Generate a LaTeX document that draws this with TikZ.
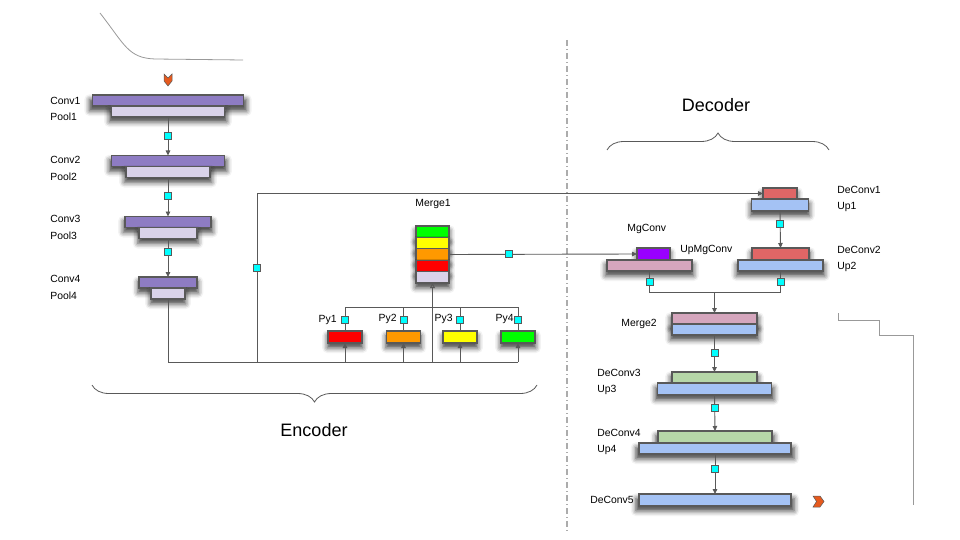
\documentclass[tikz,border=0pt]{standalone}
\usepackage{fontspec}
\setmainfont{Liberation Sans}
\usepackage{xcolor}
\usetikzlibrary{positioning,arrows.meta}
\usetikzlibrary{shadows.blur}
\usetikzlibrary{decorations.pathreplacing}
\tikzset{every picture/.style={line width=0.75pt}}
\definecolor{convpurple}{HTML}{8E7CC3}
\definecolor{poollav}{HTML}{D9D2E9}
\definecolor{deconvred}{HTML}{E06666}
\definecolor{upblue}{HTML}{A4C2F4}
\definecolor{mgpink}{HTML}{D5A6BD}
\definecolor{deconvgreen}{HTML}{B6D7A8}
\definecolor{mgpurple}{HTML}{9900FF}
\definecolor{pyred}{HTML}{FF0000}
\definecolor{pyorange}{HTML}{FF9900}
\definecolor{pyyellow}{HTML}{FFFF00}
\definecolor{pygreen}{HTML}{00FF00}
\definecolor{tapcyan}{HTML}{00FFFF}
\definecolor{linegray}{HTML}{595959}
\definecolor{chevorange}{HTML}{E65A1E}

\begin{document}
\begin{tikzpicture}[x=1pt,y=1pt,yscale=-1,xscale=1,
  layer/.style={draw=linegray, line width=1.1pt, inner sep=0pt, outer sep=0pt, minimum height=11pt,
    blur shadow={shadow xshift=0pt, shadow yshift=-4.5pt, shadow scale=1.04, shadow blur radius=5pt, shadow opacity=75}},
  conv/.style={layer, fill=convpurple},
  pool/.style={layer, fill=poollav},
  tap/.style={draw=linegray, fill=tapcyan, line width=0.8pt, minimum size=7pt, inner sep=0pt},
  lbl/.style={font=\fontsize{10.4}{12}\selectfont, inner sep=0pt, anchor=west},
  wire/.style={draw=linegray, line width=0.9pt},
  link/.style={wire, -{Triangle[width=4.5pt,length=5pt]}},
  chev/.style={draw=linegray, fill=chevorange, line width=0.5pt},
  brace/.style={draw=linegray, line width=0.8pt, decorate, decoration={brace, amplitude=17pt}},
  title/.style={font=\fontsize{18}{21}\selectfont, inner sep=0pt}]
\useasboundingbox (0,0) rectangle (960,540);

%Curve: input signal
\draw [color=gray!80, line width=0.8pt] (100,13) .. controls (125,45) and (128,58) .. (155,59) -- (243,60) ;
%Shape: Chevron
\draw [chev] (164,74) -- (168,78) -- (172,74) -- (172,81) -- (168,86) -- (164,81) -- cycle ;
%Straight Lines: separator
\draw [draw=gray!65, line width=1.1pt, dash pattern=on 6pt off 3pt on 1pt off 3pt] (567,40) -- (567,533) ;

%Shape: Encoder layers
\node [conv, minimum width=151pt] (conv1) at (168,100.5) {};
\node [pool, minimum width=113pt, below=0pt of conv1] (pool1) {};
\node [conv, minimum width=113pt] (conv2) at (168,161) {};
\node [pool, minimum width=84pt, below=0pt of conv2] (pool2) {};
\node [conv, minimum width=86pt] (conv3) at (168,222) {};
\node [pool, minimum width=58pt, below=0pt of conv3] (pool3) {};
\node [conv, minimum width=58pt] (conv4) at (168,282.5) {};
\node [pool, minimum width=34pt, below=0pt of conv4] (pool4) {};

% Text Node
\node [lbl] (lconv1) at (50,101) {Conv1};
\node [lbl] (lpool1) at (50,117) {Pool1};
\node [lbl] (lconv2) at (50,160) {Conv2};
\node [lbl] (lpool2) at (50,177) {Pool2};
\node [lbl] (lconv3) at (50,219) {Conv3};
\node [lbl] (lpool3) at (50,236) {Pool3};
\node [lbl] (lconv4) at (50,279) {Conv4};
\node [lbl] (lpool4) at (50,296) {Pool4};

%Straight Lines: encoder chain
\draw [link] (pool1.south) -- node [tap, pos=0.49] (tap1) {} (conv2.north) ;
\draw [link] (pool2.south) -- node [tap, pos=0.47] (tap2) {} (conv3.north) ;
\draw [link] (pool3.south) -- node [tap, pos=0.36] (tap3) {} (conv4.north) ;

%Shape: Merge1 stack
\foreach \c [count=\i] in {pygreen,pyyellow,pyorange,pyred,poollav}
  \node [layer, fill=\c, minimum width=33pt, minimum height=11.4pt] (merge1-\i) at (432.5,{220.3+11.4*\i}) {};
\node [lbl, anchor=center] (lmerge1) at (433,204) {Merge1};

%Shape: pyramid branches
\foreach \c/\x [count=\i] in {pyred/345,pyorange/403.5,pyyellow/460,pygreen/518}
  \node [layer, fill=\c, minimum width=34pt, minimum height=12pt] (py\i) at (\x,337) {};
\node [lbl, anchor=east] (lpy1) at (337,320) {Py1};
\node [lbl, anchor=east] (lpy2) at (397,319) {Py2};
\node [lbl, anchor=east] (lpy3) at (453,319) {Py3};
\node [lbl, anchor=east] (lpy4) at (514,319) {Py4};

%Straight Lines: buses
\coordinate (bus) at (168,362);
\coordinate (pybus) at (345,307);
\coordinate (skip) at (257,362);
\draw [wire] (pool4.south) -- (bus) -- (py4.south |- bus) ;
\foreach \i in {1,...,4} {
  \draw [link] (py\i.south |- bus) -- (py\i.south) ;
  \draw [wire] (py\i.north) -- node [tap, pos=0.45] (tpy\i) {} (py\i.north |- pybus) ;
}
\draw [wire] (py1.north |- pybus) -- (py4.north |- pybus) ;
\draw [wire, -{Triangle[open,width=5pt,length=5pt]}] (merge1-5.south |- bus) -- (merge1-5.south) ;

%Shape: Decoder layers
\node [layer, fill=deconvred, minimum width=34pt] (deconv1) at (780,193.5) {};
\node [layer, fill=upblue, minimum width=57pt, minimum height=12pt, below=0pt of deconv1] (up1) {};
\node [layer, fill=deconvred, minimum width=57pt, minimum height=12pt] (deconv2) at (780.5,254) {};
\node [layer, fill=upblue, minimum width=85pt, below=0pt of deconv2] (up2) {};
\node [layer, fill=mgpurple, minimum width=33pt, minimum height=12pt] (mgconv) at (653.5,254) {};
\node [layer, fill=mgpink, minimum width=85pt] (upmgconv) at (649.5,265.5) {};
\node [layer, fill=mgpink, minimum width=85pt] (merge2) at (714.5,318.5) {};
\node [layer, fill=upblue, minimum width=85pt, below=0pt of merge2] (merge2b) {};
\node [layer, fill=deconvgreen, minimum width=85pt] (deconv3) at (714.5,377.5) {};
\node [layer, fill=upblue, minimum width=114pt, minimum height=12pt, below=0pt of deconv3] (up3) {};
\node [layer, fill=deconvgreen, minimum width=114pt, minimum height=12pt] (deconv4) at (715,437) {};
\node [layer, fill=upblue, minimum width=152pt, below=0pt of deconv4] (up4) {};
\node [layer, fill=upblue, minimum width=152pt, minimum height=12pt] (deconv5) at (715,500) {};

% Text Node
\node [lbl] (ldeconv1) at (837,190) {DeConv1};
\node [lbl] (lup1) at (837,207) {Up1};
\node [lbl] (ldeconv2) at (837,250) {DeConv2};
\node [lbl] (lup2) at (837,267) {Up2};
\node [lbl] (lmgconv) at (627,229) {MgConv};
\node [lbl] (lupmgconv) at (680,250) {UpMgConv};
\node [lbl] (lmerge2) at (621,324) {Merge2};
\node [lbl] (ldeconv3) at (597,373) {DeConv3};
\node [lbl] (lup3) at (597,390) {Up3};
\node [lbl] (ldeconv4) at (597,433) {DeConv4};
\node [lbl] (lup4) at (597,450) {Up4};
\node [lbl] (ldeconv5) at (590,500) {DeConv5};

%Straight Lines: skip and merge links
\draw [link] (skip) |- node [tap, pos=0.28] (tskip) {} (deconv1.west) ;
\draw [link] (merge1-3.east) -- node [tap, pos=0.32] (tmerge1) {} (mgconv.west) ;
\draw [link] (up1.south) -- node [tap, pos=0.35] (tup1) {} (deconv2.north) ;
\coordinate (join) at (714.5,292);
\draw [wire] (upmgconv.south) -- node [tap, pos=0.5] (tupmg) {} (upmgconv.south |- join) -- (up2.south |- join) -- node [tap, pos=0.5] (tup2) {} (up2.south) ;
\draw [link] (join) -- (merge2.north) ;
\draw [link] (merge2b.south) -- node [tap, pos=0.49] (tmerge2) {} (deconv3.north) ;
\draw [link] (up3.south) -- node [tap, pos=0.35] (tup3) {} (deconv4.north) ;
\draw [link] (up4.south) -- node [tap, pos=0.37] (tup4) {} (deconv5.north) ;

%Shape: Chevron
\draw [chev] (813,496) -- (820,496) -- (824,501.5) -- (820,507) -- (813,507) -- (816.5,501.5) -- cycle ;
%Straight Lines: output signal
\draw [color=gray!80, line width=0.8pt] (838,313) -- (838,320) -- (879,320) -- (879,335) -- (913,335) -- (913,505) ;

%Shape: Brace
\draw [brace, decoration={mirror}] (92,385) -- (537,385) ;
\draw [brace] (607,150) -- (829,150) ;
% Text Node
\node [title] (encoder) at (314,430) {Encoder};
\node [title] (decoder) at (716,105) {Decoder};

\end{tikzpicture}
\end{document}
